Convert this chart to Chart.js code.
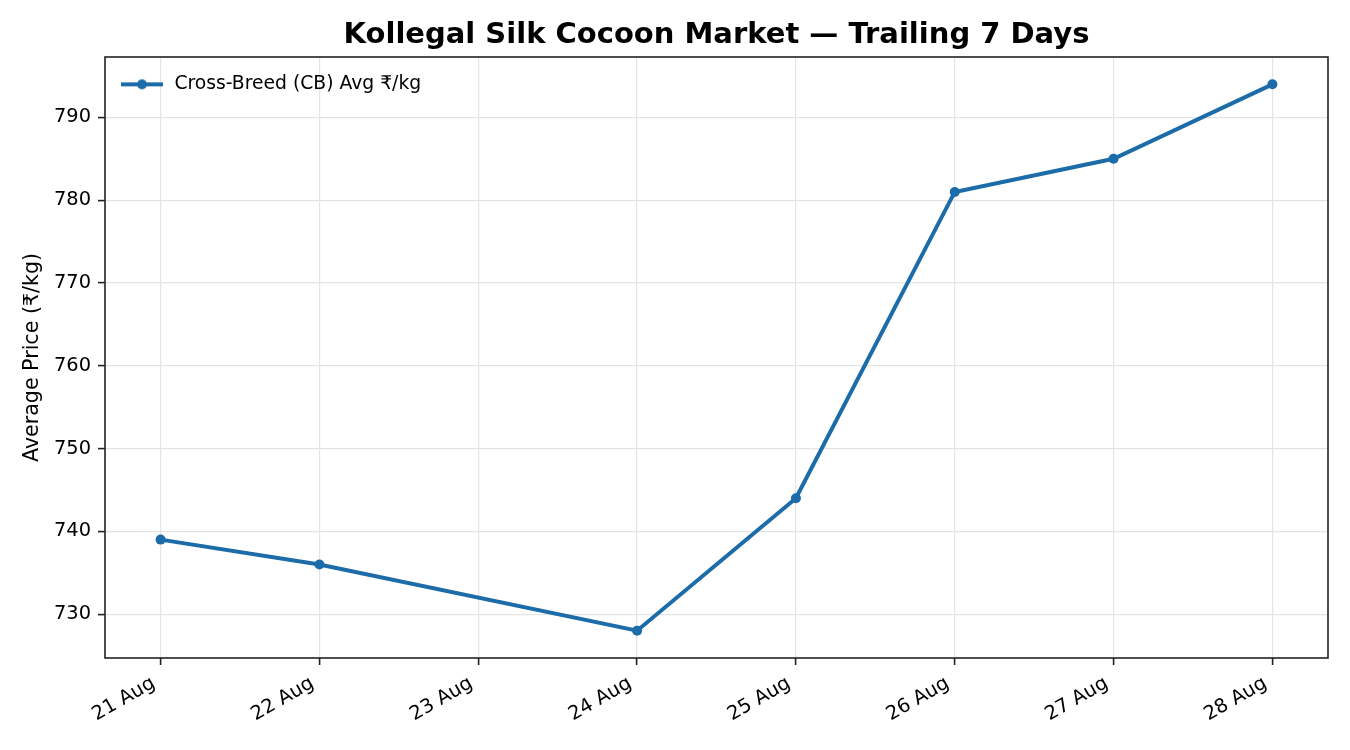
<!DOCTYPE html>
<html>
<head>
<meta charset="utf-8">
<script src="https://cdn.jsdelivr.net/npm/chart.js@4.4.1/dist/chart.umd.min.js"></script>
<style>
  html, body { margin: 0; padding: 0; background: #fff; }
  #wrap { width: 1350px; height: 750px; }
</style>
</head>
<body>
<div id="wrap"><canvas id="chart" width="1350" height="750"></canvas></div>
<script>
// x axis tick labels
const dayLabels = ['21 Aug', '22 Aug', '23 Aug', '24 Aug', '25 Aug', '26 Aug', '27 Aug', '28 Aug'];
// days with a reading (nothing on 23 Aug)
const marketDays = ['21 Aug', '22 Aug', '24 Aug', '25 Aug', '26 Aug', '27 Aug', '28 Aug'];
const cbAvgPrice = [739, 736, 728, 744, 781, 785, 794];
// y axis ticks
const priceTicks = [730, 740, 750, 760, 770, 780, 790];

const blue = '#1b6ca8';
const gridCol = '#e4e4e4';
const axisCol = '#222';

Chart.defaults.font.family = '"DejaVu Sans", sans-serif';
Chart.defaults.color = '#000';

// legend handle: line with a dot, like matplotlib
const handle = document.createElement('canvas');
handle.width = 42;
handle.height = 12;
const hc = handle.getContext('2d');
hc.strokeStyle = blue;
hc.lineWidth = 4;
hc.beginPath();
hc.moveTo(0, 6);
hc.lineTo(42, 6);
hc.stroke();
hc.fillStyle = blue;
hc.beginPath();
hc.arc(21, 6, 5, 0, Math.PI * 2);
hc.fill();

// box around the plot, title centred over the axes, legend inside top-left
const frame = {
  id: 'frame',
  afterLayout(chart) {
    const a = chart.chartArea;
    chart.titleBlock.left = a.left;
    chart.titleBlock.right = a.right;
    chart.legend.top = a.top + 4;
    chart.legend.bottom = a.bottom;
  },
  afterDraw(chart) {
    const { ctx, chartArea: a } = chart;
    ctx.save();
    ctx.strokeStyle = axisCol;
    ctx.lineWidth = 1.6;
    ctx.strokeRect(a.left, a.top, a.right - a.left, a.bottom - a.top);
    ctx.restore();
  }
};

const tickFont = { size: 19.4 };

new Chart(document.getElementById('chart'), {
  type: 'line',
  data: {
    datasets: [{
      label: 'Cross-Breed (CB) Avg ₹/kg',
      data: marketDays.map((d, i) => ({ x: dayLabels.indexOf(d), y: cbAvgPrice[i] })),
      borderColor: blue,
      backgroundColor: blue,
      borderWidth: 4,
      pointRadius: 5,
      pointBorderWidth: 0,
      tension: 0
    }]
  },
  options: {
    responsive: false,
    animation: false,
    events: [],
    layout: { padding: { left: 0, right: 22, top: 0, bottom: 0 } },
    plugins: {
      title: {
        display: true,
        text: 'Kollegal Silk Cocoon Market — Trailing 7 Days',
        font: { size: 29, weight: 'bold' },
        color: '#000',
        padding: { top: 18, bottom: 4.2 }
      },
      legend: {
        position: 'chartArea',
        align: 'start',
        labels: {
          usePointStyle: true,
          pointStyleWidth: 46,
          font: { size: 18.75 },
          color: '#000',
          padding: 14,
          generateLabels: chart => [{
            text: chart.data.datasets[0].label,
            pointStyle: handle,
            fillStyle: blue,
            strokeStyle: blue,
            lineWidth: 0,
            hidden: false,
            datasetIndex: 0
          }]
        }
      },
      tooltip: { enabled: false }
    },
    scales: {
      x: {
        type: 'linear',
        min: -0.35,
        max: 7.35,
        afterBuildTicks: s => { s.ticks = dayLabels.map((_, i) => ({ value: i })); },
        ticks: {
          callback: v => dayLabels[v],
          minRotation: 30,
          maxRotation: 30,
          autoSkip: false,
          padding: 7,
          labelOffset: -7,
          font: tickFont,
          color: '#000'
        },
        grid: { color: gridCol, lineWidth: 1.2, tickColor: axisCol, tickLength: 7, tickWidth: 1.6 },
        border: { display: false },
        afterFit: s => { s.height = 92; s.paddingLeft = 0; s.paddingRight = 0; }
      },
      y: {
        min: 724.7,
        max: 797.3,
        afterBuildTicks: s => { s.ticks = priceTicks.map(v => ({ value: v })); },
        ticks: { padding: 7, font: tickFont, color: '#000' },
        grid: { color: gridCol, lineWidth: 1.2, tickColor: axisCol, tickLength: 7, tickWidth: 1.6 },
        border: { display: false },
        title: {
          display: true,
          text: 'Average Price (₹/kg)',
          font: { size: 20.6 },
          color: '#000',
          padding: { top: 20.5, bottom: 0 }
        },
        afterFit: s => { s.width = 105; }
      }
    }
  },
  plugins: [frame]
});
</script>
</body>
</html>
